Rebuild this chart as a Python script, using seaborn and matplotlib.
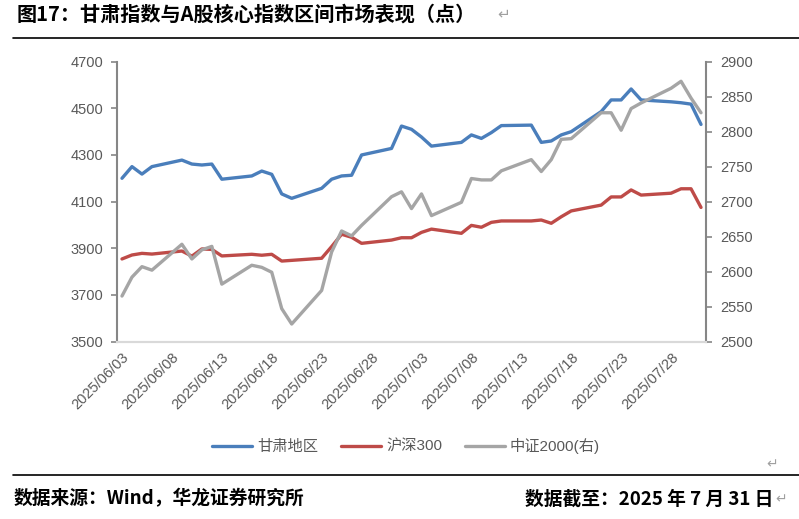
import matplotlib
matplotlib.use("Agg")
import matplotlib.pyplot as plt
import matplotlib.dates as mdates
import pandas as pd
import seaborn as sns

# trading days shown in the chart
dates = ["2025-06-03", "2025-06-04", "2025-06-05", "2025-06-06", "2025-06-09",
         "2025-06-10", "2025-06-11", "2025-06-12", "2025-06-13", "2025-06-16",
         "2025-06-17", "2025-06-18", "2025-06-19", "2025-06-20", "2025-06-23",
         "2025-06-24", "2025-06-25", "2025-06-26", "2025-06-27", "2025-06-30",
         "2025-07-01", "2025-07-02", "2025-07-03", "2025-07-04", "2025-07-07",
         "2025-07-08", "2025-07-09", "2025-07-10", "2025-07-11", "2025-07-14",
         "2025-07-15", "2025-07-16", "2025-07-17", "2025-07-18", "2025-07-21",
         "2025-07-22", "2025-07-23", "2025-07-24", "2025-07-25", "2025-07-28",
         "2025-07-29", "2025-07-30", "2025-07-31"]

gansu = [4200, 4250, 4218, 4250, 4278, 4261, 4257, 4261, 4196, 4210,
         4231, 4217, 4133, 4114, 4157, 4196, 4210, 4213, 4300, 4328,
         4424, 4410, 4377, 4338, 4354, 4386, 4371, 4396, 4426, 4428,
         4354, 4360, 4386, 4400, 4486, 4536, 4536, 4583, 4536, 4528,
         4524, 4518, 4431]

hs300 = [3854, 3871, 3878, 3875, 3888, 3866, 3897, 3895, 3867, 3874,
         3870, 3874, 3845, 3848, 3857, 3907, 3960, 3947, 3921, 3935,
         3945, 3945, 3968, 3982, 3964, 3998, 3990, 4011, 4017, 4017,
         4021, 4007, 4035, 4060, 4085, 4120, 4120, 4150, 4128, 4136,
         4155, 4155, 4075]

zz2000 = [2565, 2592, 2607, 2602, 2639, 2618, 2631, 2636, 2582, 2609,
          2606, 2599, 2547, 2525, 2573, 2628, 2658, 2651, 2666, 2707,
          2714, 2690, 2711, 2680, 2699, 2733, 2731, 2731, 2744, 2760,
          2743, 2760, 2789, 2790, 2827, 2827, 2802, 2833, 2841, 2862,
          2872, 2848, 2827]

tick_dates = ["2025/06/03", "2025/06/08", "2025/06/13", "2025/06/18",
              "2025/06/23", "2025/06/28", "2025/07/03", "2025/07/08",
              "2025/07/13", "2025/07/18", "2025/07/23", "2025/07/28"]

names = ["甘肃地区", "沪深300", "中证2000(右)"]
colors = ["#4A7EBB", "#BE4B48", "#A5A5A5"]

sns.set_theme(style="white")
plt.rcParams['font.family'] = ['Liberation Sans', 'Noto Sans CJK SC', 'DejaVu Sans']

df = pd.DataFrame({"date": pd.to_datetime(dates), "gansu": gansu,
                   "hs300": hs300, "zz2000": zz2000})

W, H = 799, 519
fig = plt.figure(figsize=(W / 100, H / 100), dpi=100)
ax = fig.add_axes([117 / W, 1 - 341.5 / H, (706 - 117) / W, (341.5 - 61.7) / H])
ax2 = ax.twinx()

lw = 2.4
sns.lineplot(data=df, x="date", y="gansu", ax=ax, color=colors[0], lw=lw,
             label=names[0], legend=False)
sns.lineplot(data=df, x="date", y="hs300", ax=ax, color=colors[1], lw=lw,
             label=names[1], legend=False)
sns.lineplot(data=df, x="date", y="zz2000", ax=ax2, color=colors[2], lw=lw,
             label=names[2], legend=False)

# date axis, points sit in the middle of each day slot
d0 = mdates.date2num(pd.Timestamp(dates[0]))
d1 = mdates.date2num(pd.Timestamp(dates[-1]))
ax.set_xlim(d0 - 0.5, d1 + 0.5)
tick_pos = [mdates.date2num(pd.Timestamp(t.replace("/", "-"))) for t in tick_dates]
ax.set_xticks(tick_pos)
ax.set_xticklabels(tick_dates, rotation=45, ha="right", rotation_mode="anchor",
                   fontsize=10.5, color="#595959")
ax.set_xticks([p - 0.5 for p in tick_pos], minor=True)
ax.tick_params(axis="x", which="major", length=0, pad=6)
ax.tick_params(axis="x", which="minor", length=4, width=1.2, color="#D9D9D9")

ax.set_ylim(3500, 4700)
ax.set_yticks(range(3500, 4701, 200))
ax2.set_ylim(2500, 2900)
ax2.set_yticks(range(2500, 2901, 50))
ax.tick_params(axis="y", length=4, width=1.2, color="#868686", pad=6,
               labelsize=10.5, labelcolor="#595959", left=True)
ax2.tick_params(axis="y", length=4, width=1.2, color="#868686", pad=6,
                labelsize=10.5, labelcolor="#595959", right=True)

for a in (ax, ax2):
    a.set_xlabel("")
    a.set_ylabel("")
    a.grid(False)
    a.spines["top"].set_visible(False)
    a.spines["bottom"].set_color("#D9D9D9")
    a.spines["bottom"].set_linewidth(1.5)
    a.spines["left"].set_color("#868686")
    a.spines["left"].set_linewidth(1.5)
    a.spines["right"].set_color("#868686")
    a.spines["right"].set_linewidth(1.5)
ax.spines["right"].set_visible(False)
ax2.spines["left"].set_visible(False)

handles = ax.get_lines() + ax2.get_lines()
fig.legend(handles, names, loc="center", bbox_to_anchor=(406 / W, 1 - 446 / H),
           ncol=3, frameon=False, fontsize=11, labelcolor="#595959",
           handlelength=2.6, handletextpad=0.35, columnspacing=1.5)

# title, rules and footer
cjk = ['Noto Sans CJK SC', 'DejaVu Sans']
fig.text(17 / W, 1 - 14 / H, "图17：甘肃指数与A股核心指数区间市场表现（点）",
         fontsize=14.5, fontweight="bold", family=cjk, va="center", ha="left",
         color="black")
fig.text(497 / W, 1 - 14 / H, "↵", fontsize=11, family=['DejaVu Sans'],
         va="center", ha="left", color="#A0A0A0")
fig.add_artist(plt.Line2D([13 / W, 1], [1 - 37.5 / H] * 2, color="black", lw=1.2))
fig.add_artist(plt.Line2D([13 / W, 1], [1 - 475 / H] * 2, color="black", lw=1.2))
fig.text(766 / W, 1 - 464 / H, "↵", fontsize=10, family=['DejaVu Sans'],
         va="center", ha="left", color="#A0A0A0")
fig.text(14 / W, 1 - 499 / H, "数据来源：Wind，华龙证券研究所", fontsize=13.5,
         fontweight="bold", family=cjk, va="center", ha="left", color="black")
fig.text(773 / W, 1 - 499 / H, "数据截至：2025 年 7 月 31 日", fontsize=13.5,
         fontweight="bold", family=cjk, va="center", ha="right", color="black")
fig.text(775 / W, 1 - 499 / H, "↵", fontsize=10, family=['DejaVu Sans'],
         va="center", ha="left", color="#A0A0A0")

fig.savefig("out.png", dpi=100)
